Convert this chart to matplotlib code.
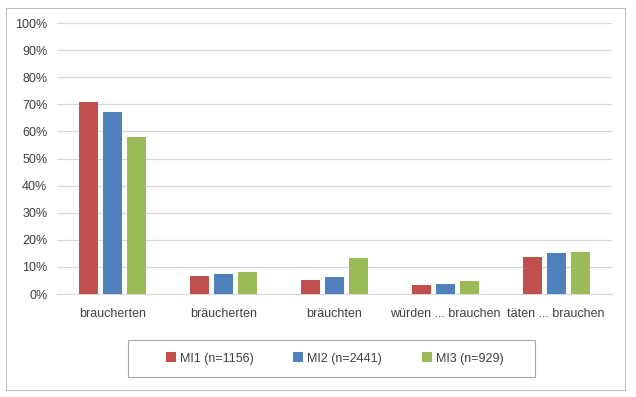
import matplotlib
matplotlib.use('Agg')
import matplotlib.pyplot as plt
from matplotlib.patches import Rectangle
import numpy as np

plt.rcParams['font.family'] = ['Liberation Sans', 'DejaVu Sans']

categories = ['braucherten', 'bräucherten', 'bräuchten', 'würden ... brauchen', 'täten ... brauchen']
series_names = ['MI1 (n=1156)', 'MI2 (n=2441)', 'MI3 (n=929)']
mi1 = [71.0, 6.6, 5.2, 3.2, 13.8]
mi2 = [67.3, 7.3, 6.3, 3.8, 15.1]
mi3 = [58.0, 8.1, 13.3, 4.7, 15.4]
colors = ['#C0504D', '#4F81BD', '#9BBB59']

fig = plt.figure(figsize=(6.36, 3.97), dpi=100)
ax = fig.add_axes([0.0896, 0.2594, 0.872, 0.6826])

x = np.arange(len(categories))
w = 0.17
step = 0.216
for i, (vals, name) in enumerate(zip([mi1, mi2, mi3], series_names)):
    ax.bar(x + (i - 1) * step, vals, width=w, color=colors[i], label=name, zorder=3)

ax.set_xlim(-0.5, len(categories) - 0.5)
ax.set_ylim(0, 100)
ax.set_yticks(np.arange(0, 101, 10))
ax.set_yticklabels([f'{v}%' for v in range(0, 101, 10)], fontsize=9, color='#404040')
ax.set_xticks(x)
ax.set_xticklabels(categories, fontsize=9, color='#404040')
ax.tick_params(axis='y', length=0, pad=7)
ax.tick_params(axis='x', length=0, pad=10)
ax.yaxis.grid(True, color='#D9D9D9', linewidth=0.9, zorder=0)
for s in ['top', 'right', 'left']:
    ax.spines[s].set_visible(False)
ax.spines['bottom'].set_color('#D9D9D9')

# legend entries without frame, box drawn separately
leg = fig.legend(loc='center', bbox_to_anchor=(334.5 / 636, 1 - 358.5 / 397), ncol=3, fontsize=9,
                 frameon=False, handlelength=0.8, handleheight=0.8, handletextpad=0.3,
                 columnspacing=3.2, labelcolor='#404040')
fig.patches.append(Rectangle((128 / 636, 1 - 377 / 397), 407 / 636, 37 / 397,
                             transform=fig.transFigure, fill=False,
                             edgecolor='#A6A6A6', linewidth=0.8))

fig.patches.append(Rectangle((6 / 636, 7 / 397), 619 / 636, 382 / 397, transform=fig.transFigure,
                             fill=False, edgecolor='#BFBFBF', linewidth=0.8))

fig.savefig('out.png', dpi=100)
